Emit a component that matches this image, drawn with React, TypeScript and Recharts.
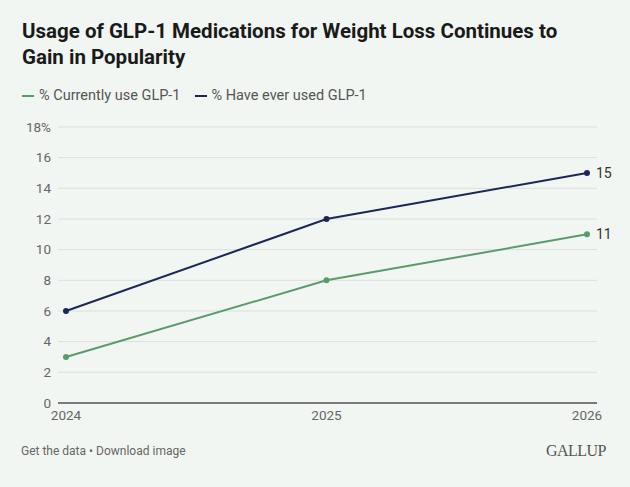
import React from 'react';
import { LineChart, Line, XAxis, YAxis, CartesianGrid, LabelList } from 'recharts';

const years = ['2024', '2025', '2026'];
const currentlyUse = [3, 8, 11];
const everUsed = [6, 12, 15];
const yTicks = [0, 2, 4, 6, 8, 10, 12, 14, 16, 18];

const GREEN = '#5b9a6b';
const NAVY = '#1b2857';
const FONT = 'Roboto, "Noto Sans", sans-serif';

const data = years.map((year, i) => ({
  year,
  current: currentlyUse[i],
  ever: everUsed[i],
}));

// Only label the final point of each line
const EndLabel = (props: any) => {
  const { x, y, value, index } = props;
  if (index !== years.length - 1) return null;
  return (
    <text x={x + 9} y={y} dy="0.35em" fontSize={14} fill="#333" fontFamily={FONT}>
      {value}
    </text>
  );
};

export default function App() {
  return (
    <div
      style={{
        position: 'absolute',
        left: 0,
        top: 0,
        width: 630,
        height: 487,
        background: '#f2f6f2',
        fontFamily: FONT,
        overflow: 'hidden',
      }}
    >
      <div
        style={{
          position: 'absolute',
          left: 22,
          top: 18,
          fontSize: 20.5,
          fontWeight: 700,
          lineHeight: '26px',
          color: '#1a1a1a',
          whiteSpace: 'nowrap',
        }}
      >
        Usage of GLP-1 Medications for Weight Loss Continues to
        <br />
        Gain in Popularity
      </div>

      {/* Legend */}
      <div
        style={{
          position: 'absolute',
          left: 22,
          top: 87,
          fontSize: 14.5,
          color: '#555',
          display: 'flex',
          gap: 14,
          alignItems: 'center',
        }}
      >
        <span style={{ display: 'flex', alignItems: 'center', gap: 5 }}>
          <span style={{ width: 12, height: 2, background: GREEN, display: 'inline-block' }} />
          % Currently use GLP-1
        </span>
        <span style={{ display: 'flex', alignItems: 'center', gap: 5 }}>
          <span style={{ width: 12, height: 2, background: NAVY, display: 'inline-block' }} />
          % Have ever used GLP-1
        </span>
      </div>

      <div style={{ position: 'absolute', left: 0, top: 110 }}>
        <LineChart
          width={630}
          height={323}
          data={data}
          margin={{ top: 17, right: 33, bottom: 0, left: 0 }}
        >
          <CartesianGrid vertical={false} stroke="#dcdfdc" />
          <XAxis
            dataKey="year"
            padding={{ left: 8, right: 10 }}
            axisLine={{ stroke: '#555', strokeWidth: 1.5 }}
            tickLine={false}
            tickMargin={1}
            tick={{ fontSize: 13.5, fill: '#666', fontFamily: FONT }}
            height={30}
          />
          <YAxis
            domain={[0, 18]}
            ticks={yTicks}
            interval={0}
            width={58}
            axisLine={false}
            tickLine={false}
            tickMargin={1}
            tick={{ fontSize: 13.5, fill: '#666', fontFamily: FONT }}
            tickFormatter={(v: number) => (v === 18 ? '18%' : String(v))}
          />
          <Line
            dataKey="current"
            stroke={GREEN}
            strokeWidth={2}
            dot={{ r: 2, fill: GREEN, stroke: GREEN }}
            isAnimationActive={false}
          >
            <LabelList dataKey="current" content={EndLabel} />
          </Line>
          <Line
            dataKey="ever"
            stroke={NAVY}
            strokeWidth={2}
            dot={{ r: 2, fill: NAVY, stroke: NAVY }}
            isAnimationActive={false}
          >
            <LabelList dataKey="ever" content={EndLabel} />
          </Line>
        </LineChart>
      </div>

      <div style={{ position: 'absolute', left: 21, top: 444, fontSize: 12, color: '#666' }}>
        Get the data • Download image
      </div>
      <div
        style={{
          position: 'absolute',
          right: 24,
          top: 442,
          fontSize: 16,
          color: '#555',
          fontFamily: '"Liberation Serif", "DejaVu Serif", serif',
          letterSpacing: -0.5,
        }}
      >
        GALLUP
      </div>
    </div>
  );
}
